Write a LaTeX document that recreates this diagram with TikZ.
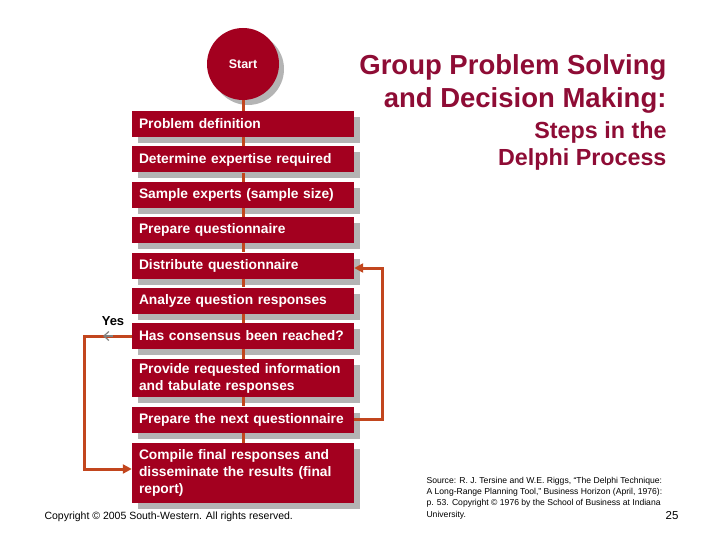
\documentclass[tikz,border=0pt]{standalone}
\usepackage{fontspec}
\setmainfont{Liberation Sans}
\usetikzlibrary{shadows,arrows.meta,calc}
\definecolor{boxred}{HTML}{A3001F}
\definecolor{titlered}{HTML}{8E0C35}
\definecolor{linkor}{HTML}{C2461E}
\definecolor{shad}{HTML}{B4B4B4}
\tikzset{
  stepbox/.style={rectangle, fill=boxred, text=white, font=\bfseries\fontsize{13.8}{17}\selectfont,
    minimum width=222pt, minimum height=26pt, text width=208pt, align=left,
    inner xsep=7pt, inner ysep=2pt,
    general shadow={fill=shad, shadow xshift=6pt, shadow yshift=-6pt}},
  link/.style={draw=linkor, line width=3pt},
  loop/.style={draw=linkor, line width=3pt, -{Triangle[length=9pt,width=9pt]}},
  yesarrow/.style={draw=gray, line width=1.2pt, -{Straight Barb[length=5pt,width=9pt]}},
  title/.style={text=titlered, align=right, anchor=east},
}
\begin{document}
\begin{tikzpicture}[x=1pt,y=-1pt]
\useasboundingbox (0,0) rectangle (720,540);
\node[circle, fill=boxred, minimum size=72pt, text=white, font=\bfseries\fontsize{12.5}{14}\selectfont,
  general shadow={fill=shad, shadow xshift=5pt, shadow yshift=-5pt}] (start) at (243,64) {Start};
\node[stepbox] (b1) at (243,124) {Problem definition};
\node[stepbox] (b2) at (243,159.5) {Determine expertise required};
\node[stepbox] (b3) at (243,195) {Sample experts (sample size)};
\node[stepbox] (b4) at (243,230) {Prepare questionnaire};
\node[stepbox] (b5) at (243,265.5) {Distribute questionnaire};
\node[stepbox] (b6) at (243,300.5) {Analyze question responses};
\node[stepbox] (b7) at (243,336) {Has consensus been reached?};
\node[stepbox, minimum height=38pt] (b8) at (243,378) {Provide requested information\\and tabulate responses};
\node[stepbox] (b9) at (243,419.5) {Prepare the next questionnaire};
\node[stepbox, minimum height=60pt] (b10) at (243,473) {Compile final responses and\\disseminate the results (final\\report)};
% vertical connectors
\draw[link] (start.south) -- (b1.north);
\foreach \a/\b in {b1/b2,b2/b3,b3/b4,b4/b5,b5/b6,b6/b7,b7/b8,b8/b9,b9/b10}
  \draw[link] (\a.south) -- (\b.north);
% right feedback loop
\coordinate (rc) at (382,268);
\draw[loop] (b9.east) -| (rc) -- ($(b5.east)+(0,2.5)$);
% Yes branch
\coordinate (ytip) at (103,336);
\coordinate (lc) at (84,336);
\node[font=\bfseries\fontsize{13}{15}\selectfont, text=black] (yes) at (113,321) {Yes};
\draw[loop] (b7.west) -- (lc) |- ($(b10.west)+(0,-4)$);
\draw[yesarrow, shorten <=19pt] (b7.west) -- (ytip);
% titles
\node[title, font=\bfseries\fontsize{27.5}{33}\selectfont] (t1) at (670,84) {Group Problem Solving\\and Decision Making:};
\node[title, font=\bfseries\fontsize{23.3}{27}\selectfont] (t2) at (670,145.5) {Steps in the\\Delphi Process};
% footers
\node[anchor=west, font=\fontsize{10.5}{12}\selectfont] (copy) at (41,517) {Copyright © 2005 South-Western. All rights reserved.};
\node[anchor=north west, align=left, font=\fontsize{8.6}{11.3}\selectfont] (src) at (423,473.5) {Source: R. J. Tersine and W.E. Riggs, ``The Delphi Technique:\\A Long-Range Planning Tool,'' Business Horizon (April, 1976):\\p. 53. Copyright © 1976 by the School of Business at Indiana\\University.};
\node[font=\fontsize{11.5}{13}\selectfont] (pg) at (672,516) {25};
\end{tikzpicture}
\end{document}
